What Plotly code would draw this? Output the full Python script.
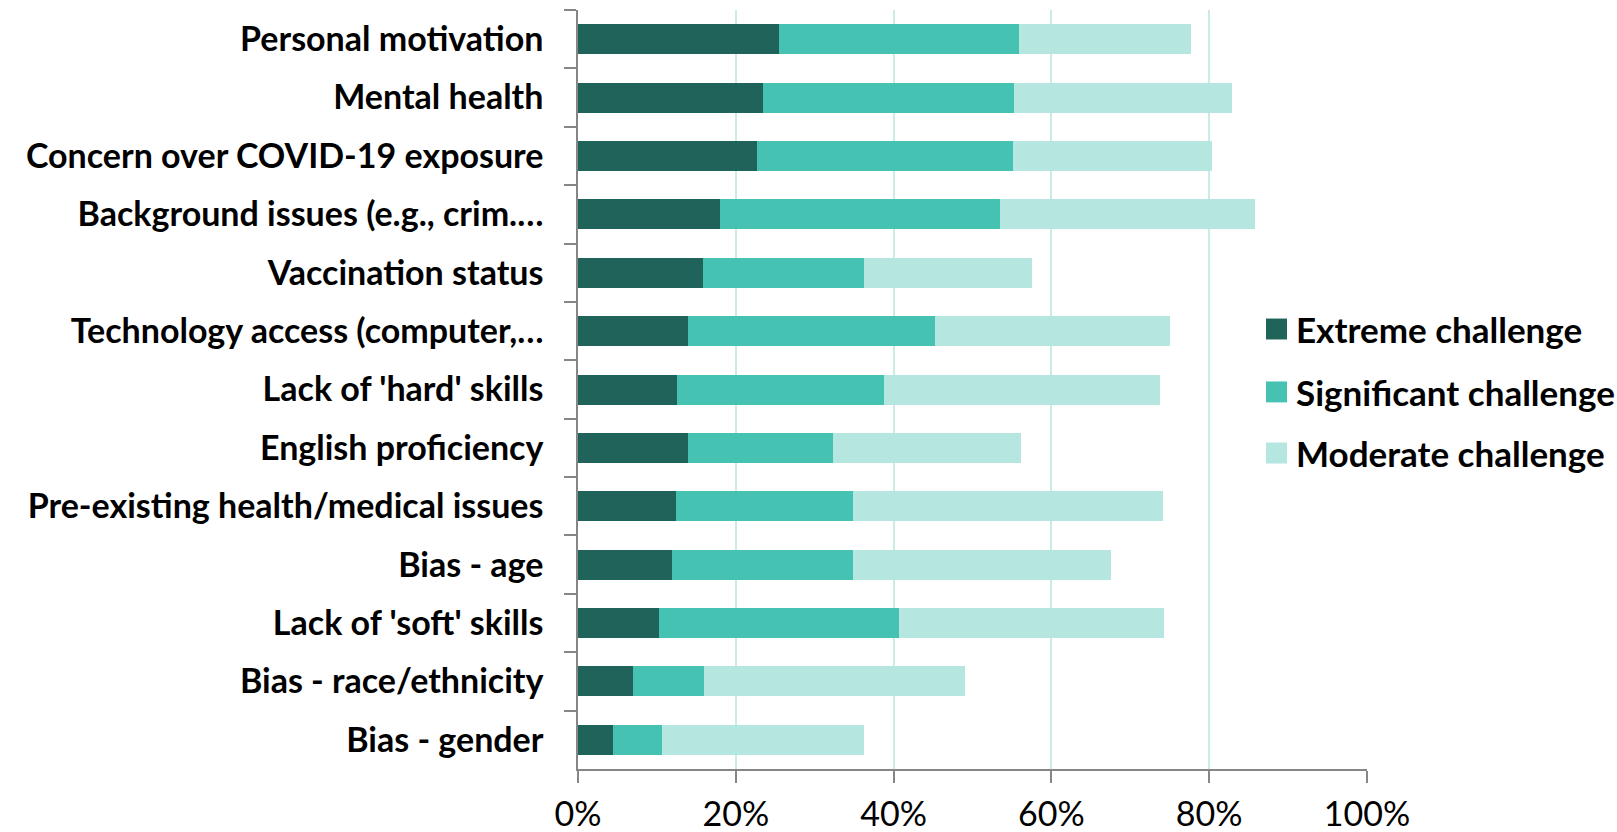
import plotly.graph_objects as go

# Challenge categories, listed top to bottom
categories = [
    "Personal motivation",
    "Mental health",
    "Concern over COVID-19 exposure",
    "Background issues (e.g., crim.\u2026",
    "Vaccination status",
    "Technology access (computer,\u2026",
    "Lack of 'hard' skills",
    "English proficiency",
    "Pre-existing health/medical issues",
    "Bias - age",
    "Lack of 'soft' skills",
    "Bias - race/ethnicity",
    "Bias - gender",
]

# Share of respondents (fraction) per challenge level
extreme = [0.255, 0.234, 0.227, 0.180, 0.159, 0.139, 0.126, 0.139, 0.124, 0.119, 0.103, 0.070, 0.044]
significant = [0.304, 0.318, 0.324, 0.355, 0.203, 0.313, 0.262, 0.184, 0.225, 0.230, 0.304, 0.090, 0.063]
moderate = [0.218, 0.277, 0.253, 0.323, 0.213, 0.298, 0.350, 0.238, 0.392, 0.326, 0.336, 0.330, 0.256]

series_names = ["Extreme challenge", "Significant challenge", "Moderate challenge"]
series_colors = ["#20635A", "#46C2B2", "#B5E6DF"]
x_ticks = [0, 0.2, 0.4, 0.6, 0.8, 1.0]
x_tick_labels = ["0%", "20%", "40%", "60%", "80%", "100%"]

FONT = "Lato"
LABEL_SIZE = 34

fig = go.Figure()
for name, vals, color in zip(series_names, [extreme, significant, moderate], series_colors):
    fig.add_trace(go.Bar(
        y=categories, x=vals, name=name, orientation="h",
        marker=dict(color=color, line=dict(width=0)),
        showlegend=False,
    ))

# Legend drawn as squares with text beside them
legend_y = [0.5797, 0.4968, 0.4163]
half = 0.0138
for name, color, yc in zip(series_names, series_colors, legend_y):
    fig.add_shape(type="rect", xref="paper", yref="paper",
                  x0=0.872, x1=0.8986, y0=yc - half, y1=yc + half,
                  fillcolor=color, line=dict(width=0))
    fig.add_annotation(xref="paper", yref="paper", x=0.908, y=yc,
                       xanchor="left", yanchor="middle", showarrow=False,
                       text="<b>%s</b>" % name,
                       font=dict(family=FONT, size=35, color="#000000"))

axis_grey = "#868686"
fig.update_layout(
    width=1617, height=832,
    margin=dict(l=578, r=250, t=10, b=63, autoexpand=False),
    paper_bgcolor="white", plot_bgcolor="white",
    barmode="stack", bargap=0.486,
    font=dict(family=FONT, color="#000000"),
    xaxis=dict(
        range=[0, 1], tickvals=x_ticks, ticktext=x_tick_labels,
        showgrid=True, gridcolor="#C9ECE6", gridwidth=1.5,
        showline=True, linecolor=axis_grey, linewidth=1.5,
        ticks="outside", ticklen=12, tickcolor=axis_grey, tickwidth=1.5,
        tickfont=dict(family=FONT, size=LABEL_SIZE, color="#000000"),
        ticklabelstandoff=2, automargin=False,
        zeroline=False, fixedrange=True,
    ),
    yaxis=dict(
        categoryorder="array", categoryarray=categories, autorange="reversed",
        showgrid=False,
        showline=True, linecolor=axis_grey, linewidth=1.5,
        ticks="outside", tickson="boundaries", ticklen=12,
        tickcolor=axis_grey, tickwidth=1.5,
        tickfont=dict(family=FONT, size=LABEL_SIZE, color="#000000", weight="bold"),
        ticklabelstandoff=26, automargin=False,
        fixedrange=True,
    ),
)

fig.write_html("out.html")
